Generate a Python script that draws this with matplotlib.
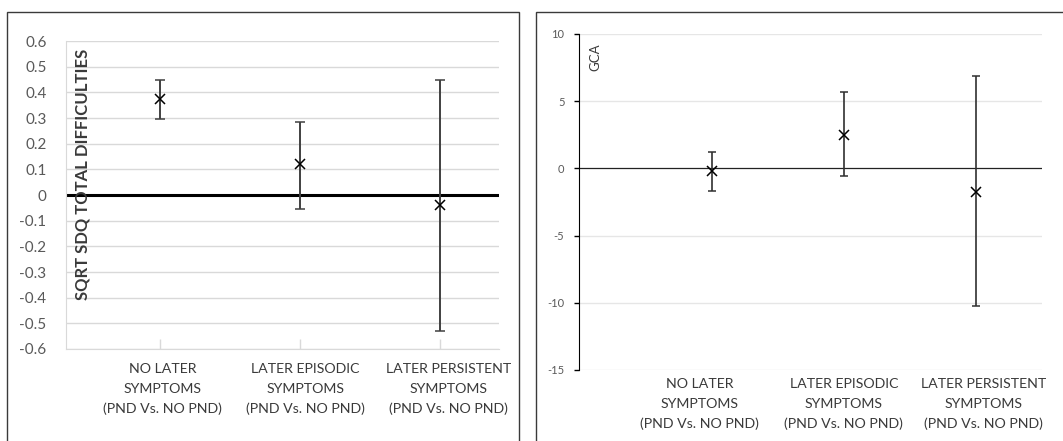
"""
Two Excel-style error bar panels: SQRT SDQ total difficulties and GCA
"""

import matplotlib
matplotlib.use('Agg')
import matplotlib.pyplot as plt
from matplotlib.patches import Rectangle

plt.rcParams['font.family'] = ['Lato', 'DejaVu Sans']

categories = ['NO LATER\nSYMPTOMS\n(PND Vs. NO PND)',
              'LATER EPISODIC\nSYMPTOMS\n(PND Vs. NO PND)',
              'LATER PERSISTENT\nSYMPTOMS\n(PND Vs. NO PND)']

# left panel: SQRT SDQ total difficulties
sdq_est = [0.373, 0.119, -0.038]
sdq_low = [0.295, -0.053, -0.529]
sdq_high = [0.450, 0.284, 0.448]
sdq_ticks = [-0.6, -0.5, -0.4, -0.3, -0.2, -0.1, 0, 0.1, 0.2, 0.3, 0.4, 0.5, 0.6]

# right panel: GCA
gca_est = [-0.22, 2.48, -1.77]
gca_low = [-1.66, -0.59, -10.24]
gca_high = [1.24, 5.65, 6.86]
gca_ticks = [-15, -10, -5, 0, 5, 10]

W, H = 1063, 441
fig = plt.figure(figsize=(W / 100, H / 100), dpi=100)


def px_axes(x0, y0, x1, y1):
    # pixel box (top-left origin) -> figure axes
    return fig.add_axes([x0 / W, (H - y1) / H, (x1 - x0) / W, (y1 - y0) / H])


def err(est, low, high):
    return [[e - l for e, l in zip(est, low)], [h - e for e, h in zip(est, high)]]


# panel frames
fig.add_artist(Rectangle((7 / W, -0.01), (519 - 7) / W, (H - 12) / H + 0.01,
                         transform=fig.transFigure, fill=False, ec='#3a3a3a', lw=1.0))
fig.add_artist(Rectangle((536 / W, -0.01), (W + 5 - 536) / W, (H - 12) / H + 0.01,
                         transform=fig.transFigure, fill=False, ec='#3a3a3a', lw=1.0))

grid_c = '#d9d9d9'
text_c = '#595959'
lab_c = '#3a3a3a'
xs = [0, 1, 2]

# ---- left panel ----
ax1 = px_axes(66, 41, 499, 349)
ax1.set_xlim(-0.671, 2.42)
ax1.set_ylim(-0.6, 0.6)
for t in sdq_ticks:
    if t != 0:
        ax1.axhline(t, color=grid_c, lw=1.0, zorder=0)
ax1.axhline(0, color='black', lw=2.2, zorder=1)
ax1.errorbar(xs, sdq_est, yerr=err(sdq_est, sdq_low, sdq_high), fmt='x', color='black',
             ecolor='#404040', elinewidth=1.4, capsize=3.5, capthick=1.4, markersize=7.5,
             markeredgewidth=1.1, zorder=3)
ax1.set_yticks(sdq_ticks)
ax1.set_yticklabels(['%g' % t for t in sdq_ticks])
ax1.tick_params(axis='y', length=0, pad=14, labelsize=11, labelcolor=text_c)
ax1.set_xticks(xs)
ax1.set_xticklabels([])
ax1.tick_params(axis='x', direction='in', length=7, width=1, color=grid_c)
for s in ['top', 'right']:
    ax1.spines[s].set_visible(False)
ax1.spines['left'].set_color(grid_c)
ax1.spines['bottom'].set_color(grid_c)
ax1.text(-0.55, 0.082, 'SQRT SDQ TOTAL DIFFICULTIES', rotation=90, ha='center', va='center',
         fontsize=12, fontweight='bold', color=lab_c)
for x, off, lab in zip(xs, [0.02, 1.04, 2.06], categories):
    ax1.text(off, -0.655, lab, ha='center', va='top', fontsize=10.2, color=lab_c,
             linespacing=1.75)

# ---- right panel ----
ax2 = px_axes(579, 34, 1042, 370)
ax2.set_xlim(-1.005, 2.50)
ax2.set_ylim(-15, 10)
for t in gca_ticks:
    if t != 0:
        ax2.axhline(t, color='#e6e6e6', lw=1.0, zorder=0)
ax2.axhline(0, color='#222222', lw=0.9, zorder=1)
ax2.errorbar(xs, gca_est, yerr=err(gca_est, gca_low, gca_high), fmt='x', color='black',
             ecolor='#303030', elinewidth=1.2, capsize=3, capthick=1.2, markersize=7.5,
             markeredgewidth=1.1, zorder=3)
ax2.set_yticks(gca_ticks)
ax2.set_yticklabels(['%g' % t for t in gca_ticks])
ax2.tick_params(axis='y', length=3.5, width=1, pad=7, labelsize=8, labelcolor=text_c)
ax2.set_xticks([])
for s in ['top', 'right', 'bottom']:
    ax2.spines[s].set_visible(False)
ax2.spines['left'].set_color('black')
ax2.text(-0.88, 8.3, 'GCA', rotation=90, ha='center', va='center', fontsize=9.5, color=lab_c)
for x, off, lab in zip(xs, [-0.09, 1.0, 2.06], categories):
    ax2.text(off, -15.6, lab, ha='center', va='top', fontsize=10.2, color=lab_c,
             linespacing=1.75)

fig.savefig('out.png', dpi=100)
